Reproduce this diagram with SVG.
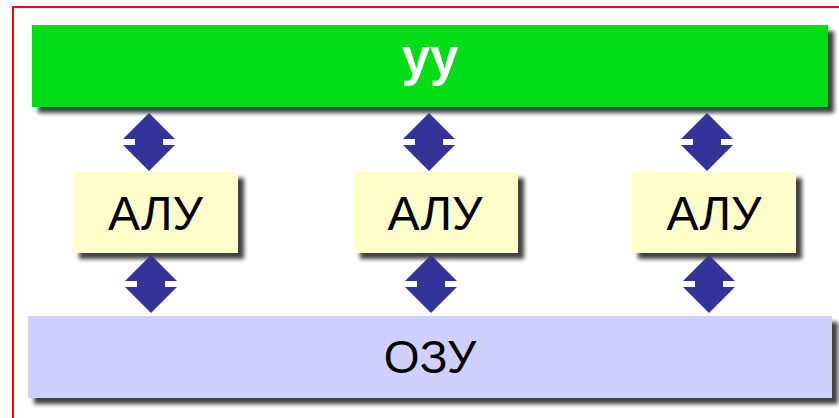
<svg xmlns="http://www.w3.org/2000/svg" width="839" height="418" viewBox="0 0 839 418">
<defs>
<filter id="sh" x="-10%" y="-20%" width="130%" height="150%">
<feDropShadow dx="6" dy="6" stdDeviation="2.2" flood-color="#000" flood-opacity="0.75"/>
</filter>
<path id="arr" d="M0,0 L26,26 L14,26 L14,32 L26,32 L0,58 L-26,32 L-14,32 L-14,26 L-26,26 Z"/>
</defs>
<style>
.box{filter:url(#sh)}
.t{font-family:"Liberation Sans",Arial,sans-serif;text-anchor:middle}
.alu{fill:#FFFFCC}
.a{fill:#333399}
</style>
<rect width="839" height="418" fill="#fff"/>
<rect x="13" y="7" width="900" height="500" fill="none" stroke="#FF0000" stroke-width="2"/>
<g id="cu">
<rect class="box" x="32" y="25" width="796" height="82" fill="#00DD18"/>
<text class="t" x="430" y="75" font-size="51" font-weight="bold" fill="#fff">уу</text>
</g>
<g id="alu1">
<rect class="box alu" x="73" y="172" width="165" height="81"/>
<text class="t" x="155.5" y="230" font-size="48" fill="#000">АЛУ</text>
</g>
<g id="alu2">
<rect class="box alu" x="354" y="172" width="164" height="81"/>
<text class="t" x="435" y="230" font-size="48" fill="#000">АЛУ</text>
</g>
<g id="alu3">
<rect class="box alu" x="632" y="172" width="164" height="81"/>
<text class="t" x="714" y="230" font-size="48" fill="#000">АЛУ</text>
</g>
<g id="ram">
<rect class="box" x="28" y="316" width="804" height="82" fill="#D0D0FF"/>
<text class="t" x="430" y="373" font-size="46" fill="#000">ОЗУ</text>
</g>
<g id="connectors" class="a">
<use href="#arr" x="149" y="113"/>
<use href="#arr" x="429" y="113"/>
<use href="#arr" x="707" y="113"/>
<use href="#arr" x="151" y="255"/>
<use href="#arr" x="431" y="255"/>
<use href="#arr" x="709" y="255"/>
</g>
</svg>
